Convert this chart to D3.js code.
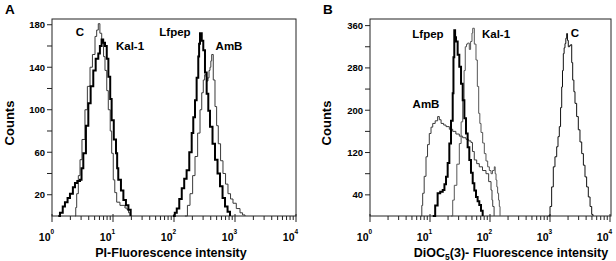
<!DOCTYPE html>
<html><head><meta charset="utf-8">
<script src="https://cdn.jsdelivr.net/npm/d3@7"></script>
<style>html,body{margin:0;padding:0;background:#fff;}</style>
</head><body>
<svg id="chart" width="616" height="261"></svg>
<script>
// ---------- DATA (x = fluorescence intensity, n = counts) ----------
const decades = [1, 10, 100, 1000, 10000];
const decadeExp = ["0", "1", "2", "3", "4"];
const yTicksA = [20, 40, 60, 80, 100, 120, 140, 160, 180];
const yLabelsA = [20, 60, 100, 140, 180];
const yTicksB = [40, 80, 120, 160, 200, 240, 280, 320, 360];
const yLabelsB = [40, 120, 200, 280, 360];

// Panel A (PI)
const A_C = [[2.38,0],[2.45,8],[2.54,21],[2.7,38],[2.88,53],[3.1,72],[3.47,100],[3.8,122],[4.2,140],[4.6,152],[5.07,169],[5.4,175],[5.74,181],[6.1,172],[6.53,166],[7.0,150],[7.39,137],[7.9,118],[8.37,100],[9.0,80],[9.52,59],[10.1,34],[10.7,22],[11.5,13],[13,10],[15.7,7.5],[17,6],[18,3],[19,0]];
const A_Kal1 = [[1.27,0],[1.35,3],[1.5,9],[1.63,13],[1.8,17],[1.97,21],[2.2,27],[2.38,31],[2.6,33],[2.88,34],[3.05,45],[3.26,59],[3.6,85],[3.94,106],[4.3,122],[4.75,137],[5.2,148],[5.74,153],[6.1,160],[6.5,166],[6.9,163],[7.4,160],[7.9,148],[8.4,131],[9.0,110],[9.5,90],[10.3,72],[11.2,59],[11.7,45],[12.2,34],[13.5,24],[14.8,15],[16.3,10],[17.9,6],[19.5,0]];
const A_Lfpep = [[96,0],[103,3],[111,7],[122,16],[134,26],[147,35],[161,43],[178,60],[195,78],[207,93],[221,109],[235,130],[250,150],[258,162],[267,172],[285,165],[302,156],[322,135],[343,115],[365,99],[389,84],[428,68],[470,53],[517,40],[568,28],[625,17],[686,9],[755,4],[828,0]];
const A_AmB = [[151,0],[166,10],[183,21],[202,38],[221,56],[244,78],[267,100],[285,116],[302,128],[318,133],[335,131],[348,127],[361,130],[375,137],[389,140],[402,146],[415,152],[440,128],[470,103],[500,85],[532,68],[580,52],[635,40],[700,30],[767,21],[845,16],[927,12],[1050,7],[1208,3],[1330,1],[1459,0]];

// Panel B (DiOC5(3))
const B_Lfpep = [[11.1,0],[12.2,20],[13.4,43],[14.8,46],[16.3,49],[17.4,60],[18.5,74],[19.7,100],[21,137],[22.4,180],[23.9,232],[24.6,300],[25.4,351],[26.2,338],[27.1,330],[28.9,305],[30.8,282],[32.9,250],[35.1,219],[37.4,185],[39.8,156],[42.4,130],[45.2,106],[48.2,82],[51.5,62],[54.8,48],[58.4,36],[62.2,28],[66.3,21],[70.8,10],[75.5,0]];
const B_Kal1 = [[22.4,0],[23.9,30],[25.4,58],[28,98],[30.8,137],[33,178],[35.1,219],[37,275],[38.7,320],[40.6,325],[42.5,327],[45.2,315],[47.5,330],[50.1,346],[51.5,355],[54.8,325],[58.4,295],[61.5,245],[64.8,194],[67.7,175],[70.8,158],[75.5,138],[80.4,118],[85.7,104],[91.5,93],[97.5,86],[104,80],[110,86],[118,93],[122,80],[126,68],[130,55],[134,43],[139,30],[143,18],[147,0]];
const B_AmB = [[7.08,0],[7.3,20],[7.55,43],[8.0,75],[8.58,112],[9.1,135],[9.73,156],[10.4,168],[11.1,175],[12.2,180],[13.4,188],[14.3,182],[15.3,175],[16.9,172],[18.5,169],[21,164],[23.9,160],[27,155],[30.8,151],[35,148],[39.8,145],[44,142],[48.2,139],[51,122],[54.7,106],[60,99],[66.3,93],[75,86],[85.7,80],[95,65],[104,49],[108,30],[111,18],[117,0]];
const B_C = [[937,0],[1000,18],[1065,55],[1135,93],[1210,112],[1293,131],[1360,150],[1429,169],[1500,205],[1567,244],[1615,275],[1667,307],[1720,318],[1778,326],[1835,336],[1897,345],[1955,332],[2018,320],[2110,322],[2213,324],[2300,290],[2389,257],[2500,235],[2610,213],[2780,188],[2963,163],[3160,140],[3377,118],[3600,96],[3831,74],[4080,55],[4348,36],[4650,18],[4955,3],[5207,0]];

const seriesA = [
  {name: "C", data: A_C, w: 1, color: "#3a3a3a"},
  {name: "AmB", data: A_AmB, w: 1, color: "#3a3a3a"},
  {name: "Kal-1", data: A_Kal1, w: 2, color: "#000"},
  {name: "Lfpep", data: A_Lfpep, w: 2, color: "#000"}
];
const seriesB = [
  {name: "AmB", data: B_AmB, w: 1, color: "#3a3a3a"},
  {name: "Kal-1", data: B_Kal1, w: 1, color: "#555"},
  {name: "C", data: B_C, w: 1, color: "#111"},
  {name: "Lfpep", data: B_Lfpep, w: 2, color: "#000"}
];
const labelsA = [["C", 80, 36], ["Kal-1", 130, 50], ["Lfpep", 175, 36], ["AmB", 229, 50]];
const labelsB = [["Lfpep", 428, 38], ["Kal-1", 496, 38], ["C", 575, 37], ["AmB", 426, 108]];

// ---------- DRAW ----------
const FONT = "'Liberation Sans', Arial, Helvetica, sans-serif";
const svg = d3.select("#chart");

function panel(cfg) {
  const g = svg.append("g");
  const x = d3.scaleLog().domain([1, 10000]).range([cfg.x0, cfg.x1]);
  const y = d3.scaleLinear().domain([0, cfg.ymax]).range([cfg.yb, cfg.yt]);

  // frame
  g.append("rect").attr("x", cfg.x0).attr("y", cfg.yt)
    .attr("width", cfg.xr - cfg.x0).attr("height", cfg.yb - cfg.yt)
    .attr("fill", "none").attr("stroke", "#222").attr("stroke-width", 1);

  // x axis minor/major ticks
  const minor = [];
  for (let k = 0; k < 4; k++) for (let m = 2; m <= 9; m++) minor.push(m * Math.pow(10, k));
  g.selectAll(".xmin").data(minor).enter().append("line")
    .attr("x1", d => x(d)).attr("x2", d => x(d))
    .attr("y1", cfg.yb).attr("y2", cfg.yb + 4)
    .attr("stroke", "#222").attr("stroke-width", 1);
  g.selectAll(".xmaj").data(decades).enter().append("line")
    .attr("x1", d => x(d)).attr("x2", d => x(d))
    .attr("y1", cfg.yb - 2).attr("y2", cfg.yb + 6)
    .attr("stroke", "#222").attr("stroke-width", 1);
  decades.forEach((d, i) => {
    g.append("text").attr("x", x(d) - 1.5).attr("y", 240.5)
      .attr("text-anchor", "end").attr("font-family", FONT)
      .attr("font-weight", "bold").attr("font-size", 10.5).text("10");
    g.append("text").attr("x", x(d) - 1.5).attr("y", 234)
      .attr("text-anchor", "start").attr("font-family", FONT)
      .attr("font-weight", "bold").attr("font-size", 6.5).text(decadeExp[i]);
  });

  // y ticks
  g.selectAll(".yt").data(cfg.yTicks).enter().append("line")
    .attr("x1", cfg.x0 - 5).attr("x2", cfg.x0)
    .attr("y1", d => y(d)).attr("y2", d => y(d))
    .attr("stroke", "#222").attr("stroke-width", 1);
  g.selectAll(".yl").data(cfg.yLabels).enter().append("text")
    .attr("x", cfg.x0 - 7).attr("y", d => y(d) + 3.5)
    .attr("text-anchor", "end").attr("font-family", FONT)
    .attr("font-weight", "bold").attr("font-size", 9.5).text(d => d);

  // series
  const line = d3.line().x(d => x(d[0])).y(d => y(d[1])).curve(d3.curveStepAfter);
  cfg.series.forEach(s => {
    g.append("path").attr("d", line(s.data)).attr("fill", "none")
      .attr("stroke", s.color).attr("stroke-width", s.w)
      .attr("stroke-linejoin", "miter");
  });

  // curve labels
  cfg.labels.forEach(l => {
    g.append("text").attr("x", l[1]).attr("y", l[2]).attr("text-anchor", "middle")
      .attr("font-family", FONT).attr("font-weight", "bold").attr("font-size", 11.5).text(l[0]);
  });

  // y title
  g.append("text").attr("transform", `translate(${cfg.ytitleX},123) rotate(-90)`)
    .attr("text-anchor", "middle").attr("font-family", FONT)
    .attr("font-weight", "bold").attr("font-size", 13).text("Counts");

  // panel letter
  g.append("text").attr("x", cfg.letterX).attr("y", 13.5)
    .attr("font-family", FONT).attr("font-weight", "bold").attr("font-size", 13.5).text(cfg.letter);
  return g;
}

const gA = panel({x0: 52, x1: 296, xr: 296, yt: 19, yb: 216, ymax: 185.4,
  yTicks: yTicksA, yLabels: yLabelsA, series: seriesA, labels: labelsA,
  ytitleX: 14, letter: "A", letterX: 5});
gA.append("text").attr("x", 171).attr("y", 256.5).attr("text-anchor", "middle")
  .attr("font-family", FONT).attr("font-weight", "bold").attr("font-size", 12.5)
  .text("PI-Fluorescence intensity");

const gB = panel({x0: 370, x1: 610, xr: 611, yt: 19, yb: 216, ymax: 372.5,
  yTicks: yTicksB, yLabels: yLabelsB, series: seriesB, labels: labelsB,
  ytitleX: 331, letter: "B", letterX: 323});
const tB = gB.append("text").attr("x", 511).attr("y", 256.5).attr("text-anchor", "middle")
  .attr("font-family", FONT).attr("font-weight", "bold").attr("font-size", 12.5);
tB.append("tspan").text("DiOC");
tB.append("tspan").attr("font-size", 8.5).attr("dy", 3).text("5");
tB.append("tspan").attr("dy", -3).text("(3)- Fluorescence intensity");
</script>
</body></html>
